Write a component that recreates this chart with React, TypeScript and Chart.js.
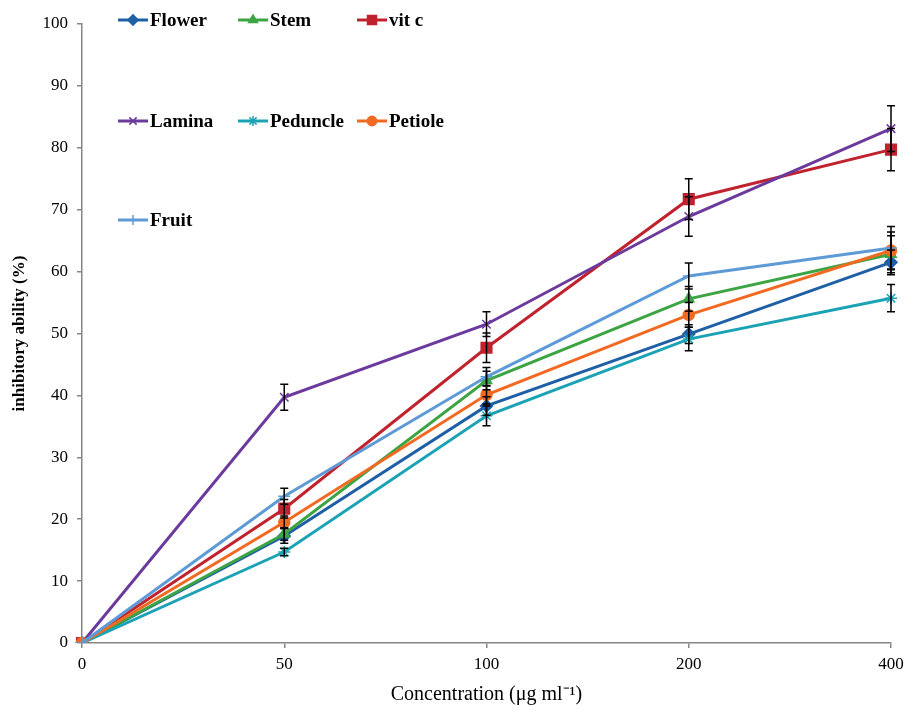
import React, { useEffect, useRef } from "react";
import { Chart, registerables } from "chart.js";
import { drawPoint } from "chart.js/helpers";

Chart.register(...registerables);

const categories = ["0", "50", "100", "200", "400"];
const yTicks = [0, 10, 20, 30, 40, 50, 60, 70, 80, 90, 100];

const seriesNames = ["Flower", "Stem", "vit c", "Lamina", "Peduncle", "Petiole", "Fruit"];
const flower = [0, 17.3, 38.3, 49.9, 61.5];
const stem = [0, 17.6, 42.4, 55.6, 62.8];
const vitC = [0, 21.7, 47.7, 71.7, 79.7];
const lamina = [0, 39.7, 51.5, 68.9, 83.1];
const peduncle = [0, 14.7, 36.7, 49.1, 55.7];
const petiole = [0, 19.5, 40.1, 53.0, 63.4];
const fruit = [0, 23.7, 43.0, 59.3, 63.8];

const flowerErr = [0, 1.2, 1.5, 1.5, 2.0];
const stemErr = [0, 1.0, 1.5, 2.0, 3.0];
const vitCErr = [0, 1.5, 2.4, 3.3, 3.4];
const laminaErr = [0, 2.1, 2.0, 3.2, 3.7];
const peduncleErr = [0, 0.6, 1.6, 1.9, 2.2];
const petioleErr = [0, 1.0, 1.5, 2.0, 3.0];
const fruitErr = [0, 1.3, 1.5, 2.1, 3.5];

const colors = ["#1f5fa6", "#3da443", "#c0222e", "#6b3a9c", "#1ba3b5", "#f26a22", "#5d9ad6"];
const pointStyles = ["rectRot", "triangle", "rect", "crossRot", "star", "circle", "cross"];
const pointRadii = [6, 6, 7.5, 6, 6, 5.5, 6];

const values = [flower, stem, vitC, lamina, peduncle, petiole, fruit];
const errors = [flowerErr, stemErr, vitCErr, laminaErr, peduncleErr, petioleErr, fruitErr];

const SERIF = "'Liberation Serif', 'Times New Roman', serif";

const errorBarPlugin = {
  id: "errorBars",
  afterDatasetsDraw(chart: any) {
    const ctx = chart.ctx;
    const yScale = chart.scales.y;
    ctx.save();
    ctx.strokeStyle = "#000";
    ctx.lineWidth = 1.5;
    chart.data.datasets.forEach((ds: any, i: number) => {
      const meta = chart.getDatasetMeta(i);
      const err = errors[i];
      meta.data.forEach((pt: any, j: number) => {
        const e = err[j];
        if (!e) return;
        const v = ds.data[j];
        const yTop = yScale.getPixelForValue(v + e);
        const yBot = yScale.getPixelForValue(v - e);
        const x = pt.x;
        ctx.beginPath();
        ctx.moveTo(x, yTop);
        ctx.lineTo(x, yBot);
        ctx.moveTo(x - 4, yTop);
        ctx.lineTo(x + 4, yTop);
        ctx.moveTo(x - 4, yBot);
        ctx.lineTo(x + 4, yBot);
        ctx.stroke();
      });
    });
    ctx.restore();
  },
};

const legendPlugin = {
  id: "gridLegend",
  afterDraw(chart: any) {
    const ctx = chart.ctx;
    const colX = [118, 238, 357];
    const rowY = [20, 121, 220];
    ctx.save();
    ctx.font = `bold 19px ${SERIF}`;
    ctx.textBaseline = "middle";
    ctx.textAlign = "left";
    seriesNames.forEach((name, i) => {
      const x0 = colX[i % 3];
      const y0 = rowY[Math.floor(i / 3)];
      ctx.strokeStyle = colors[i];
      ctx.lineWidth = 3;
      ctx.beginPath();
      ctx.moveTo(x0, y0);
      ctx.lineTo(x0 + 30, y0);
      ctx.stroke();
      ctx.fillStyle = colors[i];
      ctx.strokeStyle = colors[i];
      ctx.lineWidth = 1.5;
      drawPoint(
        ctx,
        { pointStyle: pointStyles[i], rotation: 0, radius: pointRadii[i] * 0.85, borderWidth: 1.5 } as any,
        x0 + 15,
        y0
      );
      ctx.fillStyle = "#000";
      ctx.fillText(name, x0 + 32, y0 + 1);
    });
    ctx.restore();
  },
};

export default function App() {
  const canvasRef = useRef<HTMLCanvasElement>(null);

  useEffect(() => {
    document.body.style.margin = "0";
    const canvas = canvasRef.current!;
    const chart = new Chart(canvas, {
      type: "line",
      data: {
        labels: categories,
        datasets: seriesNames.map((name, i) => ({
          label: name,
          data: values[i],
          borderColor: colors[i],
          backgroundColor: colors[i],
          pointBackgroundColor: colors[i],
          pointBorderColor: colors[i],
          pointStyle: pointStyles[i] as any,
          pointRadius: pointRadii[i],
          pointBorderWidth: 1.5,
          borderWidth: 3,
          tension: 0,
          fill: false,
          order: seriesNames.length - i,
        })),
      },
      options: {
        animation: false,
        responsive: false,
        maintainAspectRatio: false,
        layout: { padding: { top: 24, right: 0, left: 0, bottom: 0 } },
        plugins: {
          legend: { display: false },
          tooltip: { enabled: false },
        },
        scales: {
          x: {
            type: "category",
            offset: false,
            afterFit: (s: any) => {
              s.height = 67;
              s.paddingLeft = 0;
              s.paddingRight = 15;
            },
            border: { color: "#868686", width: 1.5 },
            grid: { drawOnChartArea: false, tickLength: 5, color: "#868686", lineWidth: 1.5 },
            ticks: { color: "#000", font: { family: SERIF, size: 17 }, padding: 6 },
            title: {
              display: true,
              text: "Concentration (μg ml⁻¹)",
              color: "#000",
              font: { family: SERIF, size: 20 },
              padding: { top: 0, bottom: 3 },
            },
          },
          y: {
            min: 0,
            max: 100,
            afterFit: (s: any) => {
              s.width = 82;
            },
            afterBuildTicks: (s: any) => {
              s.ticks = yTicks.map((v) => ({ value: v }));
            },
            border: { color: "#868686", width: 1.5 },
            grid: { drawOnChartArea: false, tickLength: 5, color: "#868686", lineWidth: 1.5 },
            ticks: { color: "#000", font: { family: SERIF, size: 17 }, padding: 9 },
            title: {
              display: true,
              text: "inhibitory ability (%)",
              color: "#000",
              font: { family: SERIF, size: 17, weight: "bold" },
              padding: { top: 9, bottom: 0 },
            },
          },
        },
      },
      plugins: [errorBarPlugin, legendPlugin],
    });
    return () => chart.destroy();
  }, []);

  return (
    <div style={{ width: 906, height: 710 }}>
      <canvas ref={canvasRef} width={906} height={710} style={{ display: "block" }} />
    </div>
  );
}
